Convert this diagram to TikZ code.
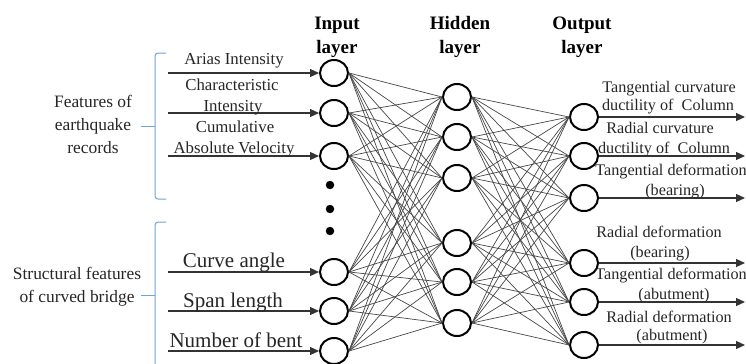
\documentclass[tikz,border=0pt]{standalone}
\usepackage{fontspec}
\setmainfont{Liberation Serif}
\usetikzlibrary{arrows.meta,shapes.geometric}
\definecolor{brk}{RGB}{110,165,215}
\begin{document}
\begin{tikzpicture}[x=1bp,y=-1bp,
  neuron/.style={draw=black,line width=2bp,ellipse,minimum width=28bp,minimum height=26bp,inner sep=0pt},
  conn/.style={draw=black!72,line width=0.7bp},
  arr/.style={draw=black!80,line width=1.1bp,-{Triangle[length=9bp,width=8bp]}},
  dotn/.style={circle,fill=black,minimum size=8.5bp,inner sep=0pt},
  brace/.style={draw=brk,line width=1bp,rounded corners=3bp},
  lbl/.style={inner sep=0pt,anchor=base,text=black!85,font=\fontsize{16.8bp}{19bp}\selectfont},
  biglbl/.style={inner sep=0pt,anchor=base,text=black!85,font=\fontsize{21bp}{24bp}\selectfont},
  grp/.style={inner sep=0pt,anchor=base,text=black!85,font=\fontsize{17.4bp}{20bp}\selectfont},
  outl/.style={inner sep=0pt,anchor=base,text=black!85,font=\fontsize{16.2bp}{18bp}\selectfont},
  head/.style={inner sep=0pt,anchor=base,font=\fontsize{19bp}{22bp}\selectfont\bfseries}
]
\useasboundingbox (0,0) rectangle (746,363);

% headers
\node[head] (hi1) at (337,29) {Input};
\node[head] (hi2) at (337,53) {layer};
\node[head] (hh1) at (460,29) {Hidden};
\node[head] (hh2) at (460,53) {layer};
\node[head] (ho1) at (582,29) {Output};
\node[head] (ho2) at (582,53) {layer};

% neurons
\foreach \n/\y in {1/73,2/113,3/156,4/272,5/311,6/351}
  \node[neuron] (i\n) at (334,\y) {};
\foreach \n/\y in {1/97,2/137,3/178,4/243,5/282,6/323}
  \node[neuron] (h\n) at (457,\y) {};
\foreach \n/\y in {1/117,2/156,3/198,4/263,5/302,6/345}
  \node[neuron] (o\n) at (584,\y) {};

% dots
\node[dotn] (d1) at (330,185) {};
\node[dotn] (d2) at (330,209) {};
\node[dotn] (d3) at (330,231) {};

% connections
\foreach \a in {1,...,6}
  \foreach \b in {1,...,6}{
    \draw[conn] (i\a.east) -- (h\b.west);
    \draw[conn] (h\a.east) -- (o\b.west);
  }

% input arrows
\foreach \n/\y in {1/73,2/113,3/156,4/272,5/311,6/351}{
  \coordinate (s\n) at (168,\y);
  \draw[arr] (s\n) -- (i\n.west);
}
% output arrows
\foreach \n/\y in {1/117,2/156,3/198,4/263,5/302,6/345}{
  \coordinate (e\n) at (745,\y);
  \draw[arr] (o\n.east) -- (e\n);
}

% input labels
\node[lbl] (l1) at (234,64) {Arias Intensity};
\node[lbl] (l2a) at (232,90) {Characteristic};
\node[lbl] (l2b) at (233,111) {Intensity};
\node[lbl] (l3a) at (235,132) {Cumulative};
\node[lbl] (l3b) at (234,153) {Absolute Velocity};
\node[biglbl] (l4) at (234,267) {Curve angle};
\node[biglbl] (l5) at (233,307) {Span length};
\node[biglbl] (l6) at (236,347) {Number of bent};

% group labels
\node[grp] (g1a) at (93,107) {Features of};
\node[grp] (g1b) at (93,130) {earthquake};
\node[grp] (g1c) at (93,153) {records};
\node[grp] (g2a) at (77,279) {Structural features};
\node[grp] (g2b) at (77,302) {of curved bridge};

% braces
\draw[brace] (166,53) -- (155,53) -- (155,199) -- (166,199);
\draw[brk,line width=1bp] (155,126) -- (141,126);
\draw[brace] (166,222) -- (155,222) -- (155,375);
\draw[brk,line width=1bp] (155,295) -- (141,295);

% output labels
\node[outl] (r1a) at (669,92) {Tangential curvature};
\node[outl] (r1b) at (668,110) {ductility of\ \ Column};
\node[outl] (r2a) at (660,133) {Radial curvature};
\node[outl] (r2b) at (664,153) {ductility of\ \ Column};
\node[outl] (r3a) at (671,175) {Tangential deformation};
\node[outl] (r3b) at (675,195) {(bearing)};
\node[outl] (r4a) at (659,237) {Radial deformation};
\node[outl] (r4b) at (660,257) {(bearing)};
\node[outl] (r5a) at (671,279) {Tangential deformation};
\node[outl] (r5b) at (674,299) {(abutment)};
\node[outl] (r6a) at (669,322) {Radial deformation};
\node[outl] (r6b) at (672,340) {(abutment)};
\end{tikzpicture}
\end{document}
